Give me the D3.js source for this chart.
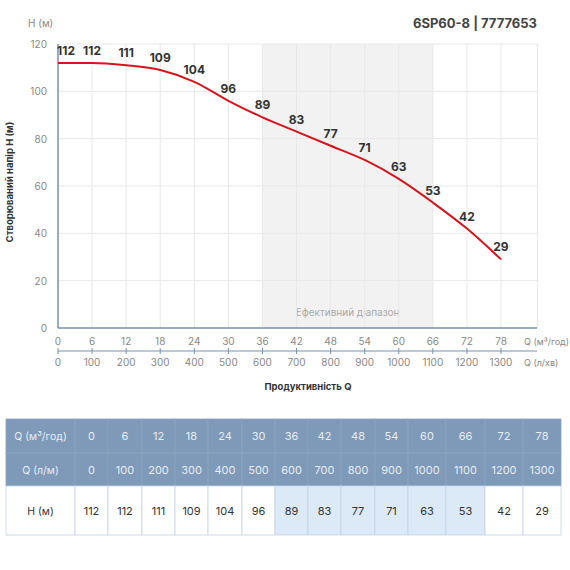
<!DOCTYPE html>
<html><head><meta charset="utf-8">
<script src="https://cdn.jsdelivr.net/npm/d3@7"></script>
<style>body{margin:0;background:#fff}svg{font-family:Inter,"Open Sans",sans-serif}</style>
</head><body><svg id="c" width="570" height="570"></svg>
<script>
const qM3 = [0,6,12,18,24,30,36,42,48,54,60,66,72,78];
const qLm = [0,100,200,300,400,500,600,700,800,900,1000,1100,1200,1300];
const head = [112,112,111,109,104,96,89,83,77,71,63,53,42,29];
const yTicks = [0,20,40,60,80,100,120];
const effRange = [36,66];

const svg = d3.select("#c");
const x = d3.scaleLinear().domain([0,78]).range([58,501]);
const x2 = d3.scaleLinear().domain([0,1300]).range([58,501]);
const xr = 537;
const y = d3.scaleLinear().domain([0,120]).range([328,44]);

svg.append("rect").attr("x",x(effRange[0])).attr("y",y(120)).attr("width",x(effRange[1])-x(effRange[0]))
  .attr("height",y(0)-y(120)).attr("fill","#f2f2f2");
svg.append("text").attr("x",(x(effRange[0])+x(effRange[1]))/2).attr("y",316).attr("text-anchor","middle")
  .attr("font-size",10).attr("fill","#aaa").text("Ефективний діапазон");

svg.selectAll(".gy").data(yTicks.slice(1)).join("line").attr("class","gy").attr("x1",x(0)).attr("x2",xr)
  .attr("y1",d=>y(d)).attr("y2",d=>y(d)).attr("stroke","#e8e8e8");
svg.selectAll(".gx").data(qM3.slice(1).concat([84.4])).join("line").attr("class","gx").attr("x1",d=>x(d)).attr("x2",d=>x(d))
  .attr("y1",y(0)).attr("y2",y(120)).attr("stroke","#e8e8e8");

svg.append("line").attr("x1",x(0)).attr("x2",x(0)).attr("y1",y(120)).attr("y2",y(0)).attr("stroke","#7891b0").attr("stroke-width",1.5);
svg.append("line").attr("x1",x(0)).attr("x2",xr).attr("y1",y(0)).attr("y2",y(0)).attr("stroke","#7891b0").attr("stroke-width",1.5);
svg.append("line").attr("x1",x(0)).attr("x2",xr).attr("y1",351).attr("y2",351).attr("stroke","#7891b0").attr("stroke-width",1.2);
svg.selectAll(".tk").data(qM3).join("line").attr("class","tk").attr("x1",d=>x(d)).attr("x2",d=>x(d)).attr("y1",348).attr("y2",354).attr("stroke","#7891b0");

svg.selectAll(".yl").data(yTicks).join("text").attr("class","yl").attr("x",47).attr("y",d=>y(d)+4).attr("text-anchor","end")
  .attr("font-size",10).attr("fill","#888").text(d=>d);
svg.selectAll(".xa").data(qM3).join("text").attr("class","xa").attr("x",d=>x(d)).attr("y",345).attr("text-anchor","middle")
  .attr("font-size",10).attr("fill","#888").text(d=>d);
svg.selectAll(".xb").data(qLm).join("text").attr("class","xb").attr("x",d=>x2(d)).attr("y",366).attr("text-anchor","middle")
  .attr("font-size",10).attr("fill","#888").text(d=>d);
svg.append("text").attr("x",524).attr("y",345).attr("font-size",9).attr("fill","#888").text("Q (м³/год)");
svg.append("text").attr("x",524).attr("y",366).attr("font-size",9).attr("fill","#888").text("Q (л/хв)");
svg.append("text").attr("x",308).attr("y",390).attr("text-anchor","middle").attr("font-size",9.5).attr("font-weight","bold").attr("fill","#333").text("Продуктивність Q");
svg.append("text").attr("transform","translate(13,182) rotate(-90)").attr("text-anchor","middle").attr("font-size",9.5).attr("font-weight","bold").attr("fill","#333").text("Створюваний напір H (м)");
svg.append("text").attr("x",28).attr("y",27).attr("font-size",10).attr("fill","#888").text("H (м)");
svg.append("text").attr("x",537).attr("y",28).attr("text-anchor","end").attr("font-size",13).attr("font-weight","bold").attr("fill","#444").text("6SP60-8 | 7777653");

const pts = qM3.map((q,i)=>[q,head[i]]);
svg.append("path").datum(pts).attr("fill","none").attr("stroke","#d7141e").attr("stroke-width",2)
  .attr("d",d3.line().x(d=>x(d[0])).y(d=>y(d[1])).curve(d3.curveMonotoneX));
svg.selectAll(".pl").data(pts).join("text").attr("class","pl").attr("x",d=>x(d[0])+(d[0]===0?8:0)).attr("y",d=>y(d[1])-8)
  .attr("text-anchor","middle").attr("font-size",12).attr("font-weight","bold").attr("fill","#333").text(d=>d[1]);

const colX = [6,75,108,142,175,208,242,275,308,341,375,408,446,485,523,561];
const rowY = [419,453,486,535];
const rows = [["Q (м³/год)"].concat(qM3),["Q (л/м)"].concat(qLm),["H (м)"].concat(head)];
rows.forEach((r,ri)=>{
  r.forEach((v,ci)=>{
    const isEff = ri===2 && ci>0 && qM3[ci-1]>=effRange[0] && qM3[ci-1]<=effRange[1];
    const fill = ri<2 ? "#7f99b8" : (isEff ? "#dce9f7" : "#fff");
    svg.append("rect").attr("x",colX[ci]).attr("y",rowY[ri]).attr("width",colX[ci+1]-colX[ci]).attr("height",rowY[ri+1]-rowY[ri])
      .attr("fill",fill).attr("stroke",ri<2?"#8aa3c0":"#c5d3e3").attr("stroke-width",0.8);
    svg.append("text").attr("x",(colX[ci]+colX[ci+1])/2).attr("y",(rowY[ri]+rowY[ri+1])/2+4)
      .attr("text-anchor","middle").attr("font-size",ci===0?10.5:11).attr("fill",ri<2?"#e6edf5":"#333").text(v);
  });
});
</script></body></html>
